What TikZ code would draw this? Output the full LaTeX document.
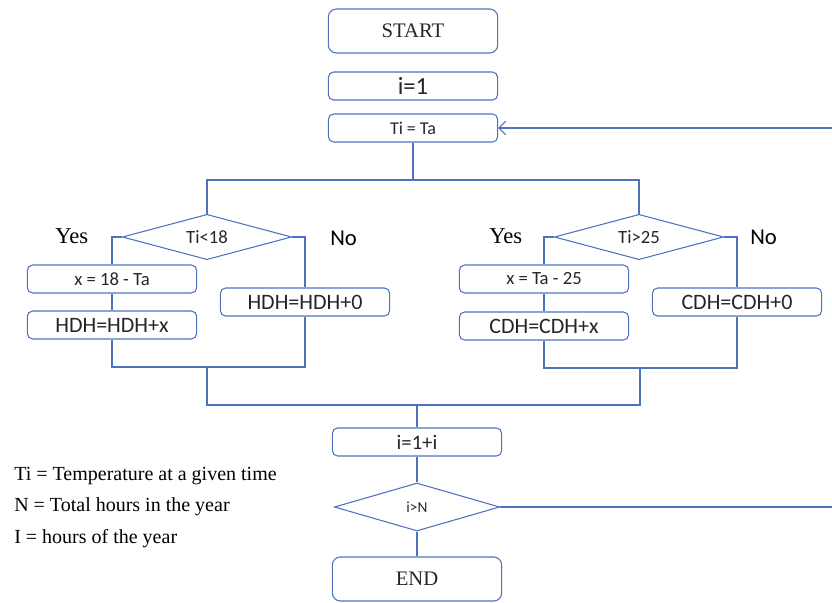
\documentclass[tikz,border=0pt]{standalone}
\usepackage{fontspec}
\setmainfont{Liberation Serif}
\newfontfamily\calib{Carlito}
\usetikzlibrary{shapes.geometric,arrows.meta}
\definecolor{flowblue}{RGB}{79,114,190}
\tikzset{
  flow/.style={draw=flowblue, line width=0.8pt},
  procbox/.style={draw=flowblue, line width=0.8pt, rounded corners=4pt, inner sep=0pt,
    minimum width=127pt, minimum height=21pt, text=black!85, font=\calib\fontsize{13}{15}\selectfont},
  termbox/.style={procbox, rounded corners=6pt, minimum height=33pt, font=\fontsize{15.5}{17}\selectfont},
  testdiamond/.style={draw=flowblue, line width=0.8pt, diamond, aspect=4, inner sep=0pt,
    minimum width=127pt, minimum height=34pt, text=black!85, font=\calib\fontsize{14}{16}\selectfont},
  answer/.style={anchor=west, inner sep=0pt, font=\fontsize{17}{19}\selectfont},
  legend/.style={anchor=west, inner sep=0pt, font=\fontsize{15}{17}\selectfont}
}
\begin{document}
\begin{tikzpicture}[x=0.75pt, y=-0.75pt]
\useasboundingbox (0,0) rectangle (832,603);
\node[termbox] (start) at (413,31) {START};
\node[procbox, font=\calib\fontsize{18.5}{20}\selectfont] (init) at (413,86) {i=1};
\node[procbox, font=\calib\fontsize{13.5}{15}\selectfont] (assign) at (413,128) {Ti = Ta};
\coordinate (back) at (832,128);
\draw[flow, -{Straight Barb[length=5pt, width=10pt]}] (back) -- (assign.east);
\node[testdiamond] (heat) at (207,237) {Ti<18};
\node[testdiamond] (cool) at (639,237) {Ti>25};
\coordinate (fork) at (413,180);
\draw[flow] (assign.south) -- (fork);
\draw[flow] (heat.north) |- (fork) -| (cool.north);
\node[procbox, font=\calib\fontsize{14}{16}\selectfont] (hx) at (112,279) {x = 18 - Ta};
\node[procbox, font=\calib\fontsize{16.5}{18}\selectfont] (hsum) at (112,325) {HDH=HDH+x};
\node[procbox, font=\calib\fontsize{16.5}{18}\selectfont] (hzero) at (305,302) {HDH=HDH+0};
\node[procbox, font=\calib\fontsize{14}{16}\selectfont] (cx) at (544,279) {x = Ta - 25};
\node[procbox, font=\calib\fontsize{16.5}{18}\selectfont] (csum) at (544,326) {CDH=CDH+x};
\node[procbox, font=\calib\fontsize{16.5}{18}\selectfont] (czero) at (737,302) {CDH=CDH+0};
\draw[flow] (heat.west) -| (hx.north);
\draw[flow] (hx) -- (hsum);
\draw[flow] (heat.east) -| (hzero.north);
\draw[flow] (hsum.south) |- (207,367) -| (hzero.south);
\draw[flow] (cool.west) -| (cx.north);
\draw[flow] (cx) -- (csum);
\draw[flow] (cool.east) -| (czero.north);
\draw[flow] (csum.south) |- (640,368) -| (czero.south);
\node[answer] (yesh) at (55,236) {Yes};
\node[answer, font=\calib\fontsize{17}{19}\selectfont] (noh) at (330,238) {No};
\node[answer] (yesc) at (489,236) {Yes};
\node[answer, font=\calib\fontsize{17}{19}\selectfont] (noc) at (750,237) {No};
\coordinate (hmid) at (207,367);
\coordinate (cmid) at (640,368);
\coordinate (merge) at (417,405);
\node[procbox, font=\calib\fontsize{15.5}{17}\selectfont] (inc) at (417,442) {i=1+i};
\node[testdiamond, minimum width=124pt, minimum height=36pt, font=\calib\fontsize{11.5}{13}\selectfont] (check) at (417,507) {i>N};
\node[termbox] (stop) at (417,579) {END};
\coordinate (loop) at (832,507);
\draw[flow] (hmid) |- (merge) -| (cmid);
\draw[flow] (merge) -- (inc.north);
\draw[flow] (inc) -- (check);
\draw[flow] (check) -- (stop);
\draw[flow] (check.east) -- (loop);
\node[legend] (lti) at (14,476) {Ti = Temperature at a given time};
\node[legend] (ln) at (14,507) {N = Total hours in the year};
\node[legend] (li) at (14,539) {I = hours of the year};
\end{tikzpicture}
\end{document}
